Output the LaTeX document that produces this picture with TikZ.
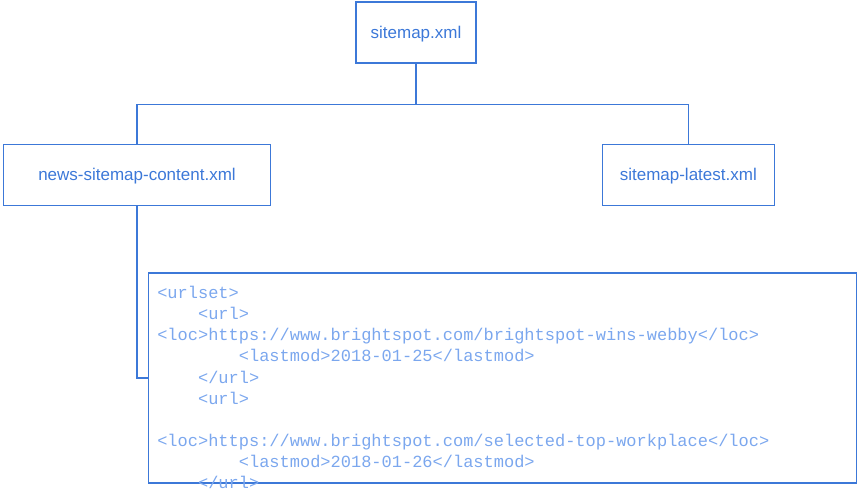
\documentclass[tikz,border=0pt]{standalone}
\usepackage{fontspec}
\setmainfont{Liberation Sans}
\setmonofont{Liberation Mono}
\definecolor{edge}{HTML}{3C78D8}
\definecolor{labtext}{HTML}{3C78D8}
\definecolor{codetext}{HTML}{7BA7EE}
\tikzset{
  filebox/.style={draw=edge, line width=1.1pt, minimum height=61*0.75pt, inner sep=0pt,
    text height=9pt, text depth=0pt,
    text=labtext, font=\fontsize{12.75}{15}\selectfont},
  codeline/.style={anchor=base west, inner sep=0pt, text=codetext,
    font=\fontsize{12.75}{15.75}\selectfont\ttfamily},
  link/.style={draw=edge, line width=1.1pt}
}
\begin{document}
\begin{tikzpicture}[x=0.75pt,y=-0.75pt]
\useasboundingbox (0,0) rectangle (860,491);
\node[filebox, minimum width=120*0.75pt] (root) at (416,32.5) {sitemap.xml};
\node[filebox, minimum width=267*0.75pt] (news) at (137,174.8) {news-sitemap-content.xml};
\node[filebox, minimum width=172*0.75pt] (latest) at (688.3,174.8) {sitemap-latest.xml};
\node[draw=edge, line width=1.1pt, minimum width=708*0.75pt, minimum height=210*0.75pt, inner sep=0pt] (code) at (502.4,378.2) {};
\coordinate (split) at (416,104.3);
\draw[link] (root.south) -- (split);
\draw[link] (split) -| (news.north);
\draw[link] (split) -| (latest.north);
\draw[link] (news.south) |- (code.west);
\node[codeline] (c1) at (157,299) {<urlset>};
\node[codeline] (c2) at (197.8,320) {<url>};
\node[codeline] (c3) at (157,341) {<loc>https://www.brightspot.com/brightspot-wins-webby</loc>};
\node[codeline] (c4) at (238.6,362) {<lastmod>2018-01-25</lastmod>};
\node[codeline] (c5) at (197.8,383) {</url>};
\node[codeline] (c6) at (197.8,404) {<url>};
\node[codeline] (c8) at (157,446) {<loc>https://www.brightspot.com/selected-top-workplace</loc>};
\node[codeline] (c9) at (238.6,467) {<lastmod>2018-01-26</lastmod>};
\node[codeline] (c10) at (197.8,488) {</url>};
\end{tikzpicture}
\end{document}
